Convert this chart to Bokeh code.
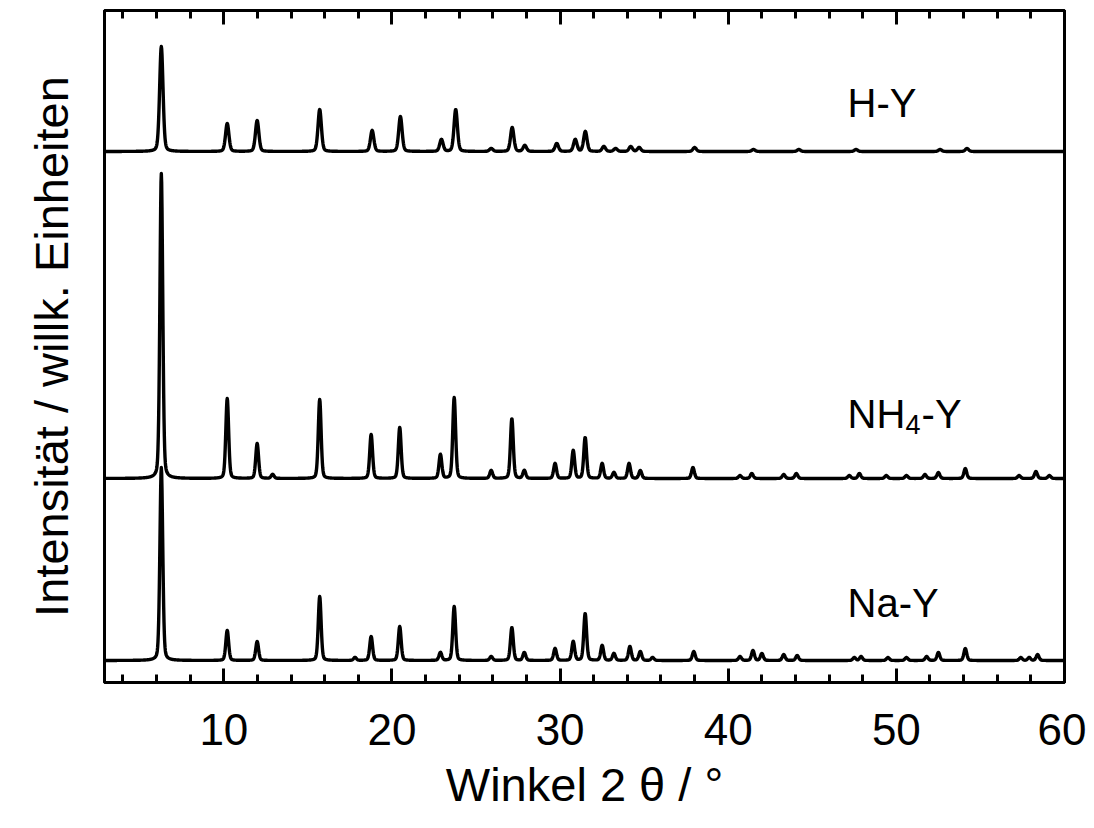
import numpy as np
from bokeh.plotting import figure
from bokeh.models import Range1d, LinearAxis, SingleIntervalTicker, FixedTicker, CustomJSTickFormatter
from bokeh.core.properties import value
from bokeh.embed import file_html
from bokeh.resources import INLINE

# ---- data (2-theta in degrees, intensity in arbitrary units) ----
na_pos = [6.28, 10.2, 11.98, 15.7, 17.8, 18.76, 20.46, 22.88, 23.7, 25.9, 27.13, 27.87, 29.7,
          30.78, 31.49, 32.5, 33.2, 34.15, 34.77, 35.5, 37.95, 40.7, 41.47, 42.0, 43.3, 44.1,
          47.5, 47.9, 49.5, 50.6, 51.8, 52.5, 54.1, 57.4, 57.9, 58.4]
na_int = [193, 30, 19, 64, 3, 24, 34, 8, 54, 4, 33, 8, 12,
          19, 47, 15, 7, 14, 9, 3, 9, 4, 10, 7, 6, 5,
          3, 4, 3, 3, 4, 8, 12, 3, 3, 6]

nh4_pos = [6.28, 10.2, 11.98, 12.9, 15.7, 18.76, 20.46, 22.88, 23.7, 25.9, 27.13, 27.87, 29.7,
           30.78, 31.49, 32.5, 33.2, 34.1, 34.77, 37.9, 40.7, 41.4, 43.3, 44.05, 47.2, 47.8,
           49.4, 50.6, 51.7, 52.5, 54.1, 57.3, 58.3, 59.1]
nh4_int = [305, 80, 35, 4, 79, 44, 51, 24, 81, 8, 60, 8, 15,
           28, 41, 15, 6, 15, 8, 11, 3, 5, 4, 5, 3, 5,
           3, 3, 4, 6, 10, 3, 7, 3]

h_pos = [6.28, 10.2, 11.98, 15.7, 18.82, 20.5, 22.94, 23.79, 25.9, 27.15, 27.9, 29.8, 30.9,
         31.5, 32.6, 33.3, 34.2, 34.7, 38.0, 41.5, 44.2, 47.6, 52.6, 54.2]
h_int = [105, 28, 31, 42, 21, 35, 12, 42, 3, 24, 6, 8, 12,
         20, 5, 3, 5, 4, 4, 2, 2, 2, 2, 3]

offsets = {"Na-Y": 22, "NH4-Y": 204, "H-Y": 531}
widths = {"Na-Y": 0.2, "NH4-Y": 0.2, "H-Y": 0.24}

x_start, x_end = 2.9, 60.0
x = np.arange(x_start, x_end + 0.001, 0.02)


def pattern(pos, inten, fwhm, base):
    y = np.full_like(x, float(base))
    s = fwhm / 2.3548
    g = fwhm / 2.0
    for p0, h in zip(pos, inten):
        gauss = np.exp(-0.5 * ((x - p0) / s) ** 2)
        lor = 1.0 / (1.0 + ((x - p0) / g) ** 2)
        y += h * (0.75 * gauss + 0.25 * lor)
    return y


p = figure(frame_width=960, frame_height=672, output_backend="svg", toolbar_location=None,
           x_range=Range1d(x_start, x_end), y_range=Range1d(0, 672),
           min_border_left=104, min_border_right=22, min_border_top=10, min_border_bottom=0)
p.background_fill_color = "white"
p.border_fill_color = "white"
p.grid.visible = False
p.outline_line_color = "black"
p.outline_line_width = 3

line_kw = dict(line_color="black", line_width=3.4, line_join="round")
p.line(x, pattern(na_pos, na_int, widths["Na-Y"], offsets["Na-Y"]), **line_kw)
p.line(x, pattern(nh4_pos, nh4_int, widths["NH4-Y"], offsets["NH4-Y"]), **line_kw)
p.line(x, pattern(h_pos, h_int, widths["H-Y"], offsets["H-Y"]), **line_kw)

font = "Liberation Sans"

# bottom axis
xa = p.xaxis[0]
xa.ticker = SingleIntervalTicker(interval=10, num_minor_ticks=5)
xa.axis_label = "Winkel 2 θ / °"
xa.axis_label_text_font = font
xa.axis_label_text_font_style = "normal"
xa.axis_label_text_font_size = "47px"
xa.axis_label_text_color = "black"
xa.axis_label_standoff = 10
xa.major_label_text_font = font
xa.major_label_text_font_size = "44px"
xa.major_label_text_color = "black"
xa.major_label_standoff = 31
xa.major_tick_in = 14
xa.major_tick_out = 0
xa.minor_tick_in = 8
xa.minor_tick_out = 0
xa.major_tick_line_width = 3
xa.minor_tick_line_width = 3
xa.axis_line_width = 3

# top axis (ticks only)
top = LinearAxis(ticker=SingleIntervalTicker(interval=10, num_minor_ticks=5),
                 formatter=CustomJSTickFormatter(code="return ''"),
                 major_tick_in=14, major_tick_out=0,
                 minor_tick_in=8, minor_tick_out=0, major_tick_line_width=3,
                 minor_tick_line_width=3, axis_line_width=3, major_label_standoff=0)
p.add_layout(top, "above")

# left axis: label only
ya = p.yaxis[0]
ya.ticker = FixedTicker(ticks=[])
ya.axis_label = "Intensität / willk. Einheiten"
ya.axis_label_text_font = font
ya.axis_label_text_font_style = "normal"
ya.axis_label_text_font_size = "47px"
ya.axis_label_text_color = "black"
ya.axis_label_standoff = 27
ya.major_tick_in = 0
ya.major_tick_out = 0
ya.minor_tick_in = 0
ya.minor_tick_out = 0
ya.axis_line_width = 3

# series labels
lab_x = 47.1
tkw = dict(text_color="black", text_font=value(font), text_baseline="alphabetic", text_align="left")
p.text(x=[lab_x], y=[80], text=["Na-Y"], text_font_size="40px", **tkw)
p.text(x=[lab_x], y=[580], text=["H-Y"], text_font_size="40px", **tkw)
p.text(x=[lab_x], y=[269], text=["NH"], text_font_size="40px", **tkw)
p.text(x=[lab_x], y=[269], text=["4"], text_font_size="27px", x_offset=58, y_offset=11, **tkw)
p.text(x=[lab_x], y=[269], text=["-Y"], text_font_size="40px", x_offset=74, **tkw)

open("out.html", "w").write(file_html(p, INLINE))
